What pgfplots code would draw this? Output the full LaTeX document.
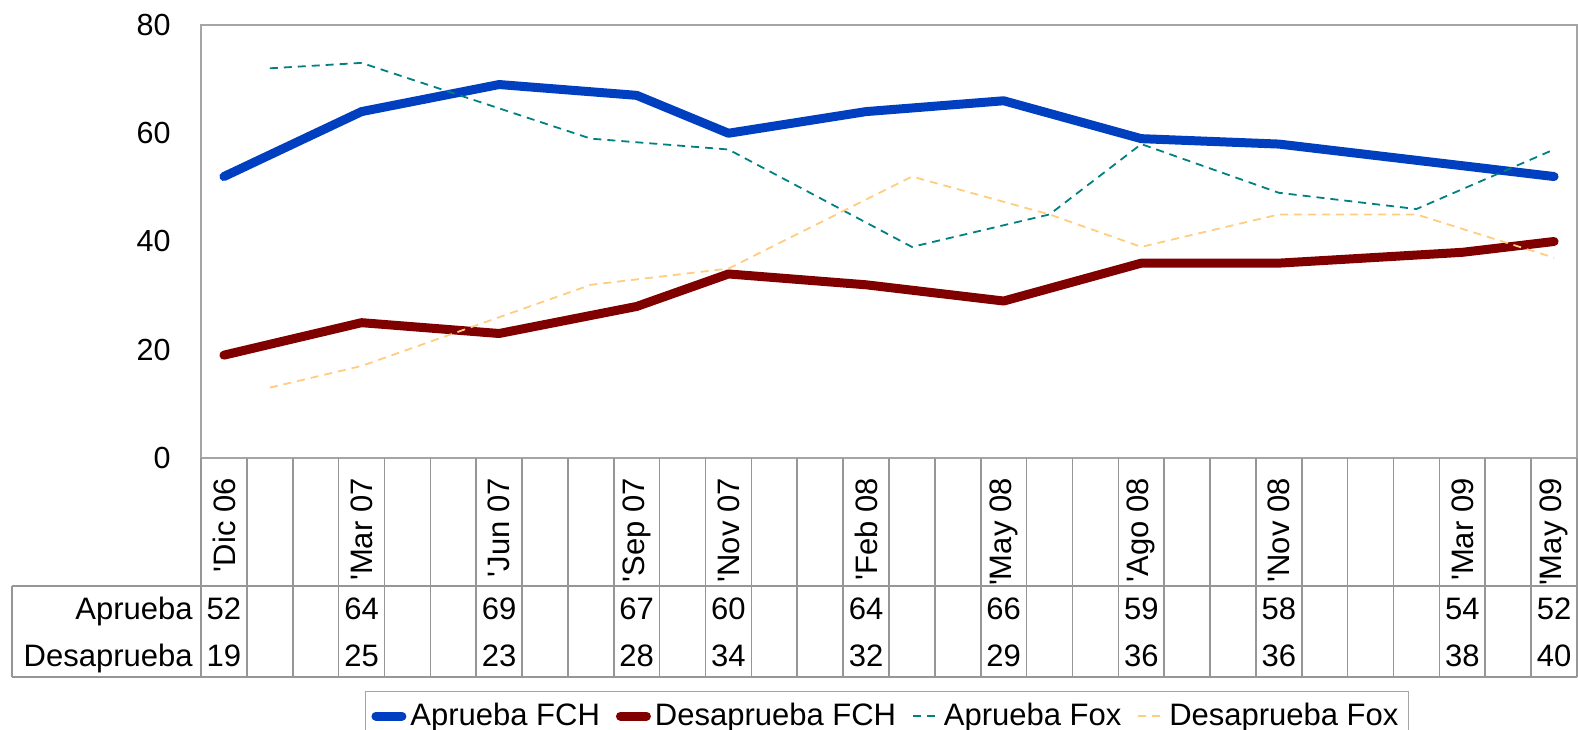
\documentclass[border=0pt]{standalone}
\usepackage{fontspec}
\setmainfont{Liberation Sans}[Ligatures=TeXOff]
\usepackage{pgfplots}
\pgfplotsset{compat=1.18}
\usepackage{pgfplotstable}

\definecolor{fchblue}{RGB}{0,64,192}
\definecolor{fchred}{RGB}{128,0,0}
\definecolor{foxteal}{RGB}{0,128,128}
\definecolor{foxorange}{RGB}{255,204,128}
\definecolor{gridgray}{RGB}{150,150,150}
\definecolor{boxgray}{RGB}{165,165,165}

% months since Dic 06 (0 = Dic 06)
\pgfplotstableread{
x ap des
0 52 19
3 64 25
6 69 23
9 67 28
11 60 34
14 64 32
17 66 29
20 59 36
23 58 36
27 54 38
29 52 40
}\fch

\pgfplotstableread{
x ap des
1 72 13
3 73 17
8 59 32
11 57 35
15 39 52
18 45 45
20 58 39
23 49 45
26 46 45
29 57 37
}\fox

\newcommand\tf{\fontsize{15.25}{18}\selectfont}
\newcommand\tg{\fontsize{15.5}{18}\selectfont}

\begin{document}
\begin{tikzpicture}
\begin{axis}[
  scale only axis, width=688pt, height=216.5pt,
  xmin=-0.5, xmax=29.5, ymin=0, ymax=80,
  ytick={0,20,40,60,80},
  xtick={0,3,6,9,11,14,17,20,23,27,29},
  xticklabels={'Dic 06,'Mar 07,'Jun 07,'Sep 07,'Nov 07,'Feb 08,'May 08,'Ago 08,'Nov 08,'Mar 09,'May 09},
  major tick length=0pt,
  axis line style={draw=boxgray, line width=0.8pt},
  yticklabel style={font=\tf},
  xticklabel style={font=\tg},
  /pgf/number format/assume math mode=true,
  yticklabel style={anchor=east, inner sep=0pt, xshift=-15pt},
  xticklabel style={yshift=-10pt, rotate=90, anchor=east, inner sep=0pt},
  clip=false,
  legend columns=4,
  legend style={at={(0.4985,-0.537)}, anchor=north, draw=boxgray, line width=0.8pt,
    font=\tg, inner xsep=3pt, inner ysep=4pt,
    /tikz/every even column/.append style={column sep=6pt},
    cells={anchor=west, inner xsep=1.5pt}},
  legend image code/.code={\draw[#1] (0pt,0pt) -- (13pt,0pt);},
]
\addplot[color=fchblue, line width=4.5pt, line cap=round, line join=round] table[x=x,y=ap]{\fch};
\addlegendentry{Aprueba FCH}
\addplot[color=fchred, line width=4.5pt, line cap=round, line join=round] table[x=x,y=des]{\fch};
\addlegendentry{Desaprueba FCH}
\addplot[color=foxteal, line width=0.9pt, dash pattern=on 4pt off 3pt] table[x=x,y=ap]{\fox};
\addlegendentry{Aprueba Fox}
\addplot[color=foxorange, line width=0.9pt, dash pattern=on 4pt off 3pt] table[x=x,y=des]{\fox};
\addlegendentry{Desaprueba Fox}

% data table grid
\pgfplotsinvokeforeach{-0.5,0.5,...,29.5}{
  \draw[gridgray, line width=0.8pt] (axis cs:#1,0) -- (axis cs:#1,-40.46);
}
\draw[gridgray, line width=0.8pt] (axis cs:-4.62,-23.6) -- (axis cs:29.5,-23.6);
\draw[gridgray, line width=0.8pt] (axis cs:-4.62,-40.46) -- (axis cs:29.5,-40.46);
\draw[gridgray, line width=0.8pt] (axis cs:-4.62,-23.6) -- (axis cs:-4.62,-40.46);

% row headers
\node[font=\tg, anchor=base east, inner sep=0pt, xshift=-4pt] at (axis cs:-0.5,-29.93) {Aprueba};
\node[font=\tg, anchor=base east, inner sep=0pt, xshift=-4pt] at (axis cs:-0.5,-38.61) {Desaprueba};

% table values
\tikzset{tv/.style={font=\tg, anchor=base, inner sep=0pt}}
\node[tv] at (axis cs:0,-29.93) {52};  \node[tv] at (axis cs:0,-38.61) {19};
\node[tv] at (axis cs:3,-29.93) {64};  \node[tv] at (axis cs:3,-38.61) {25};
\node[tv] at (axis cs:6,-29.93) {69};  \node[tv] at (axis cs:6,-38.61) {23};
\node[tv] at (axis cs:9,-29.93) {67};  \node[tv] at (axis cs:9,-38.61) {28};
\node[tv] at (axis cs:11,-29.93) {60}; \node[tv] at (axis cs:11,-38.61) {34};
\node[tv] at (axis cs:14,-29.93) {64}; \node[tv] at (axis cs:14,-38.61) {32};
\node[tv] at (axis cs:17,-29.93) {66}; \node[tv] at (axis cs:17,-38.61) {29};
\node[tv] at (axis cs:20,-29.93) {59}; \node[tv] at (axis cs:20,-38.61) {36};
\node[tv] at (axis cs:23,-29.93) {58}; \node[tv] at (axis cs:23,-38.61) {36};
\node[tv] at (axis cs:27,-29.93) {54}; \node[tv] at (axis cs:27,-38.61) {38};
\node[tv] at (axis cs:29,-29.93) {52}; \node[tv] at (axis cs:29,-38.61) {40};

\coordinate (A) at (rel axis cs:0,0);
\coordinate (B) at (rel axis cs:1,1);
\end{axis}
\pgfresetboundingbox
\path[use as bounding box] ([xshift=-100.5pt,yshift=-136pt]A) rectangle ([xshift=0.5pt,yshift=12.5pt]B);
\end{tikzpicture}
\end{document}
